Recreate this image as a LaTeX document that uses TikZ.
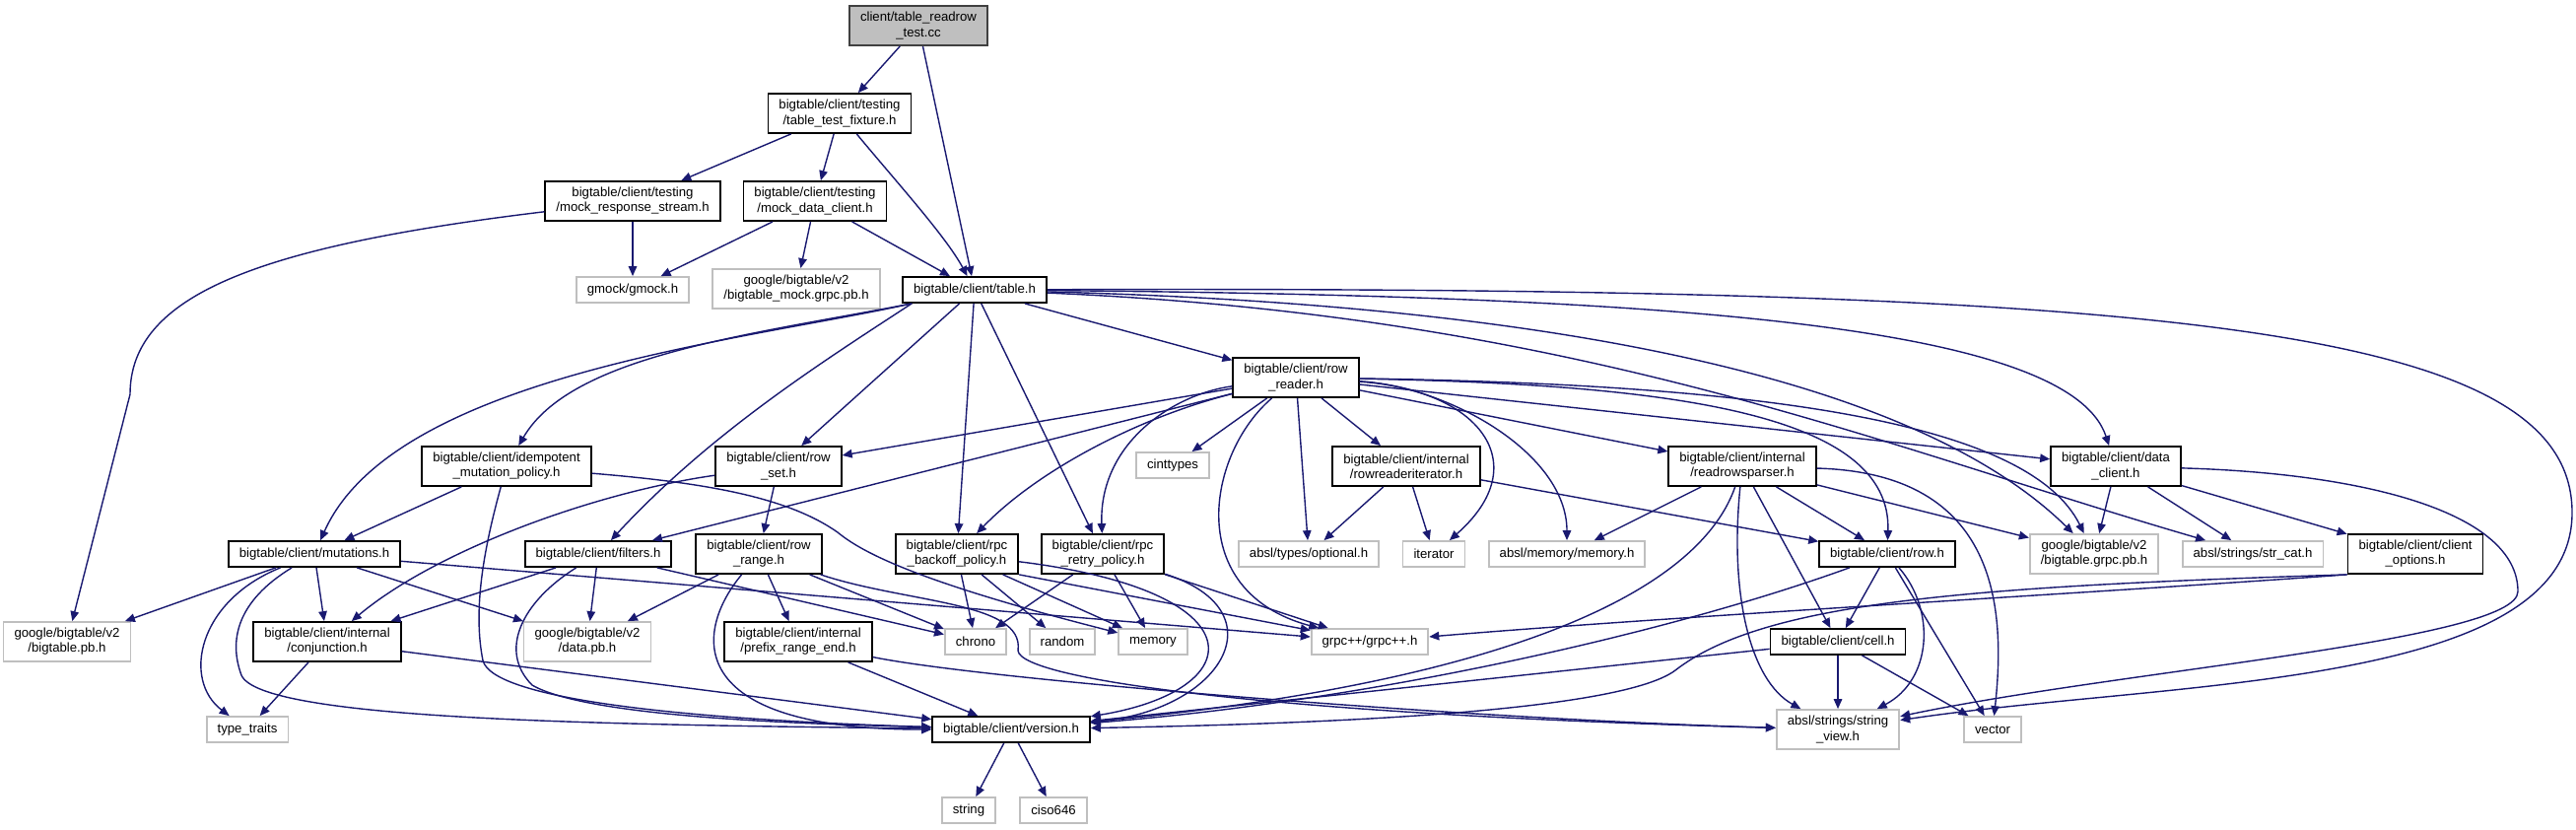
\documentclass[tikz,border=0pt]{standalone}
\usepackage{fontspec}
\setmainfont{Liberation Sans}
\usepackage{tikz}
\usetikzlibrary{
  arrows.meta
}
\definecolor{edgecolor}{RGB}{25, 25, 112}
\definecolor{extcolor}{RGB}{191, 191, 191}
\definecolor{rootcolor}{RGB}{191, 191, 191}
\definecolor{rootborder}{RGB}{64, 64, 64}
\tikzset{
filetext/.style={
  align=center,
  font=\fontsize{3.75pt}{4.3pt}\selectfont,
  text=black
},
filenode/.style={
  draw=black,
  fill=white,
  line width=0.18mm,
  inner xsep=1.1mm,
  inner ysep=0.3mm,
  minimum height=2.6mm,
  filetext
},
extnode/.style={
  filenode,
  draw=extcolor
},
rootnode/.style={
  filenode,
  draw=rootborder,
  fill=rootcolor
},
twoline/.style={
  minimum height=4mm
},
arrow/.style={
  -{Triangle[length=1mm,width=0.85mm]},
  line width=0.14mm,
  draw=edgecolor
}
}

\begin{document}
\begin{tikzpicture}[x=0.1mm, y=-0.1mm]
\useasboundingbox (0,0) rectangle (2614,841);

\node[rootnode, twoline] (root) at (932,26) {client/table\_readrow\\\_test.cc};
\node[filenode, twoline] (fixture) at (852,115) {bigtable/client/testing\\/table\_test\_fixture.h};
\node[filenode, twoline] (mockstream) at (642,204) {bigtable/client/testing\\/mock\_response\_stream.h};
\node[filenode, twoline] (mockclient) at (827,204) {bigtable/client/testing\\/mock\_data\_client.h};
\node[extnode] (gmock) at (642,294) {gmock/gmock.h};
\node[extnode, twoline] (mockgrpc) at (808,293) {google/bigtable/v2\\/bigtable\_mock.grpc.pb.h};
\node[filenode] (table) at (989,294) {bigtable/client/table.h};
\node[filenode, twoline] (rowreader) at (1315,383) {bigtable/client/row\\\_reader.h};
\node[filenode, twoline] (idempotent) at (514,473) {bigtable/client/idempotent\\\_mutation\_policy.h};
\node[filenode, twoline] (rowset) at (790,473) {bigtable/client/row\\\_set.h};
\node[extnode] (cinttypes) at (1190,472) {cinttypes};
\node[filenode, twoline] (rriter) at (1427,473) {bigtable/client/internal\\/rowreaderiterator.h};
\node[filenode, twoline] (rrparser) at (1768,473) {bigtable/client/internal\\/readrowsparser.h};
\node[filenode, twoline] (dataclient) at (2147,473) {bigtable/client/data\\\_client.h};
\node[filenode] (mutations) at (319,562) {bigtable/client/mutations.h};
\node[filenode] (filters) at (607,562) {bigtable/client/filters.h};
\node[filenode, twoline] (rowrange) at (770,562) {bigtable/client/row\\\_range.h};
\node[filenode, twoline] (backoff) at (971,562) {bigtable/client/rpc\\\_backoff\_policy.h};
\node[filenode, twoline] (retry) at (1119,562) {bigtable/client/rpc\\\_retry\_policy.h};
\node[extnode] (optional) at (1328,562) {absl/types/optional.h};
\node[extnode] (iterator) at (1455,562) {iterator};
\node[extnode] (abslmemory) at (1590,562) {absl/memory/memory.h};
\node[filenode] (row) at (1915,562) {bigtable/client/row.h};
\node[extnode, twoline] (grpcpb) at (2125,562) {google/bigtable/v2\\/bigtable.grpc.pb.h};
\node[extnode] (strcat) at (2286,562) {absl/strings/str\_cat.h};
\node[filenode, twoline] (options) at (2451,562) {bigtable/client/client\\\_options.h};
\node[extnode, twoline] (bigtablepb) at (68,651) {google/bigtable/v2\\/bigtable.pb.h};
\node[filenode, twoline] (conjunction) at (332,651) {bigtable/client/internal\\/conjunction.h};
\node[extnode, twoline] (datapb) at (596,651) {google/bigtable/v2\\/data.pb.h};
\node[filenode, twoline] (prefixend) at (810,651) {bigtable/client/internal\\/prefix\_range\_end.h};
\node[extnode] (chrono) at (990,651) {chrono};
\node[extnode] (random) at (1078,651) {random};
\node[extnode] (memory) at (1170,651) {memory};
\node[extnode] (grpcpp) at (1390,651) {grpc++/grpc++.h};
\node[filenode] (cell) at (1865,651) {bigtable/client/cell.h};
\node[extnode] (typetraits) at (251,740) {type\_traits};
\node[filenode] (version) at (1026,740) {bigtable/client/version.h};
\node[extnode, twoline] (stringview) at (1865,740) {absl/strings/string\\\_view.h};
\node[extnode] (vector) at (2022,740) {vector};
\node[extnode] (string) at (983,822) {string};
\node[extnode] (ciso646) at (1069,822) {ciso646};

\draw[arrow] (root) -- (fixture);
\draw[arrow] (root) -- (table);
\draw[arrow] (fixture) -- (mockstream);
\draw[arrow] (fixture) -- (mockclient);
\draw[arrow] (fixture) .. controls (910,185) and (960,240) .. (table);
\draw[arrow] (mockstream) -- (gmock);
\draw[arrow] (mockstream) .. controls (260,250) and (132,300) .. (132,400) -- (bigtablepb);
\draw[arrow] (mockclient) -- (gmock);
\draw[arrow] (mockclient) -- (mockgrpc);
\draw[arrow] (mockclient) -- (table);

\draw[arrow] ([xshift=1mm]table.south west) .. controls (760,345) and (400,380) .. (mutations);
\draw[arrow] ([xshift=1mm]table.south west) .. controls (760,340) and (580,360) .. (idempotent);
\draw[arrow] ([xshift=1mm]table.south west) .. controls (830,370) and (720,440) .. (filters);
\draw[arrow] (table) -- (rowset);
\draw[arrow] (table) -- (backoff);
\draw[arrow] (table) -- (retry);
\draw[arrow] (table) -- (rowreader);
\draw[arrow] (table) .. controls (1700,300) and (2100,330) .. (dataclient);
\draw[arrow] (table) .. controls (1600,310) and (1950,390) .. (grpcpb);
\draw[arrow] (table) .. controls (1600,320) and (1900,450) .. (strcat);
\draw[arrow] (table) .. controls (2200,290) and (2610,330) .. (2610,520) .. controls (2610,700) and (2200,690) .. (stringview);

\draw[arrow] (rowreader) -- (rowset);
\draw[arrow] (rowreader) -- (filters);
\draw[arrow] (rowreader) .. controls (1150,425) and (1050,480) .. (backoff);
\draw[arrow] (rowreader) .. controls (1190,400) and (1115,450) .. (retry);
\draw[arrow] (rowreader) -- (cinttypes);
\draw[arrow] (rowreader) .. controls (1225,460) and (1200,600) .. (grpcpp);
\draw[arrow] (rowreader) -- (optional);
\draw[arrow] (rowreader) -- (rriter);
\draw[arrow] (rowreader) .. controls (1500,395) and (1560,470) .. (iterator);
\draw[arrow] (rowreader) .. controls (1470,392) and (1590,460) .. (abslmemory);
\draw[arrow] (rowreader) -- (rrparser);
\draw[arrow] (rowreader) -- (dataclient);
\draw[arrow] (rowreader) .. controls (1700,390) and (1920,420) .. (row);
\draw[arrow] (rowreader) .. controls (1800,390) and (2060,430) .. (grpcpb);

\draw[arrow] (idempotent) -- (mutations);
\draw[arrow] (idempotent) .. controls (490,560) and (480,620) .. (490,670) .. controls (500,710) and (700,730) .. (version);
\draw[arrow] (idempotent) .. controls (720,490) and (800,505) .. (850,540) .. controls (880,565) and (950,595) .. (memory);
\draw[arrow] (rowset) -- (rowrange);
\draw[arrow] (rowset) .. controls (600,500) and (440,560) .. (conjunction);

\draw[arrow] (mutations) -- (bigtablepb);
\draw[arrow] (mutations) .. controls (200,610) and (185,690) .. (typetraits);
\draw[arrow] (mutations) -- (conjunction);
\draw[arrow] (mutations) .. controls (240,610) and (232,650) .. (245,685) .. controls (265,730) and (600,735) .. (version);
\draw[arrow] (mutations) -- (datapb);
\draw[arrow] (mutations) -- (grpcpp);
\draw[arrow] (filters) -- (conjunction);
\draw[arrow] (filters) .. controls (530,610) and (505,660) .. (540,695) .. controls (600,730) and (850,735) .. (version);
\draw[arrow] (filters) -- (datapb);
\draw[arrow] (filters) -- (chrono);
\draw[arrow] (rowrange) -- (datapb);
\draw[arrow] (rowrange) -- (prefixend);
\draw[arrow] (rowrange) .. controls (705,640) and (690,740) .. (version);
\draw[arrow] (rowrange) -- (chrono);
\draw[arrow] (rowrange) .. controls (920,612) and (1040,610) .. (1033,660) .. controls (1036,690) and (1300,725) .. (stringview);
\draw[arrow] (backoff) -- (chrono);
\draw[arrow] (backoff) -- (random);
\draw[arrow] (backoff) -- (memory);
\draw[arrow] (backoff.south east) -- (grpcpp);
\draw[arrow] (backoff) .. controls (1280,600) and (1270,700) .. (version);
\draw[arrow] (retry) -- (chrono);
\draw[arrow] (retry) -- (memory);
\draw[arrow] (retry) -- (grpcpp);
\draw[arrow] (retry) .. controls (1300,620) and (1240,720) .. (version);

\draw[arrow] (rriter) -- (optional);
\draw[arrow] (rriter) -- (iterator);
\draw[arrow] (rriter) -- (row);
\draw[arrow] (rrparser) -- (abslmemory);
\draw[arrow] (rrparser) .. controls (1720,610) and (1500,695) .. (version);
\draw[arrow] (rrparser) .. controls (1755,600) and (1775,690) .. (stringview);
\draw[arrow] (rrparser) -- (cell);
\draw[arrow] (rrparser) -- (row);
\draw[arrow] (rrparser) .. controls (2030,480) and (2035,620) .. (vector);
\draw[arrow] (rrparser) -- (grpcpb);
\draw[arrow] (row) .. controls (1700,640) and (1400,710) .. (version);
\draw[arrow] (row) -- (cell);
\draw[arrow] (row) .. controls (1965,620) and (1960,690) .. (stringview);
\draw[arrow] (row) -- (vector);
\draw[arrow] (cell) -- (version);
\draw[arrow] (cell) -- (stringview);
\draw[arrow] (cell) -- (vector);
\draw[arrow] (dataclient) -- (grpcpb);
\draw[arrow] (dataclient) -- (strcat);
\draw[arrow] (dataclient) -- (options);
\draw[arrow] (dataclient) .. controls (2400,480) and (2555,520) .. (2555,600) .. controls (2555,650) and (2150,680) .. (stringview);
\draw[arrow] (options.south west) .. controls (2150,600) and (1700,625) .. (grpcpp);
\draw[arrow] (options.south west) .. controls (2000,595) and (1790,610) .. (1700,680) .. controls (1640,725) and (1300,735) .. (version);

\draw[arrow] (conjunction) -- (typetraits);
\draw[arrow] (conjunction) -- (version);
\draw[arrow] (prefixend) -- (version);
\draw[arrow] (prefixend) .. controls (1000,690) and (1500,730) .. (stringview);
\draw[arrow] (version) -- (string);
\draw[arrow] (version) -- (ciso646);
\end{tikzpicture}
\end{document}
